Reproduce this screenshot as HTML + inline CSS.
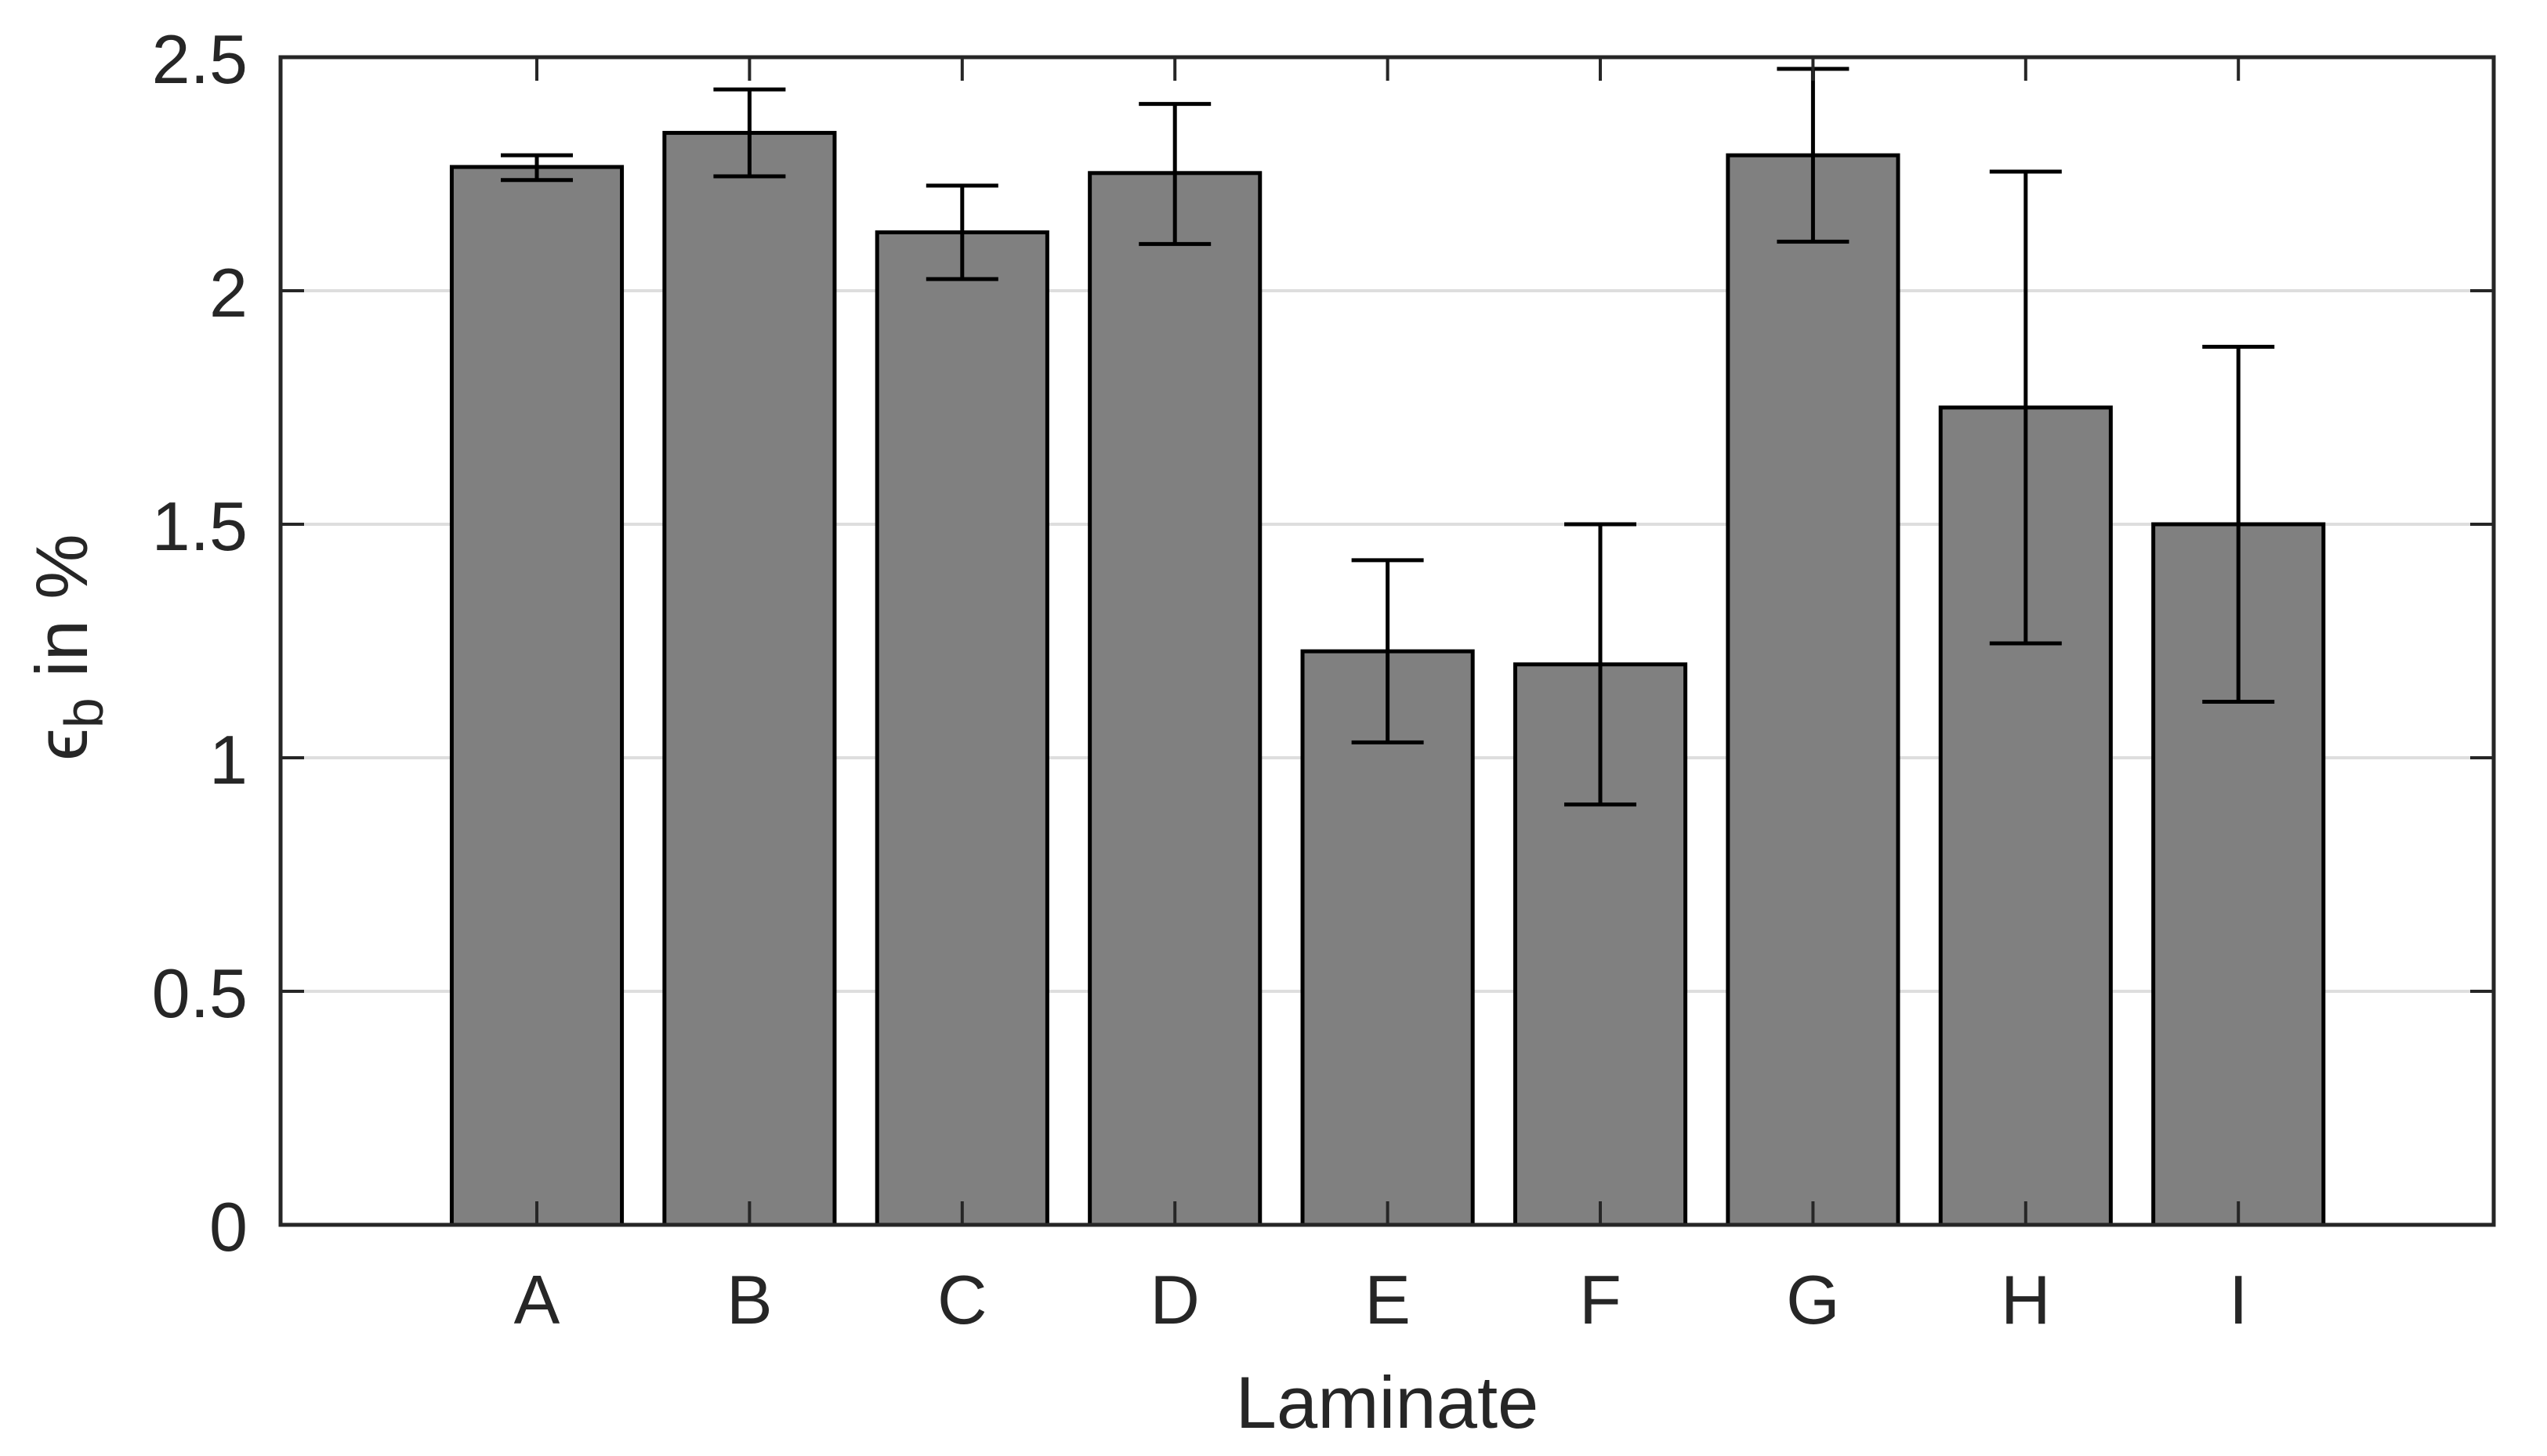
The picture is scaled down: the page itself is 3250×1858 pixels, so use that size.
<!DOCTYPE html>
<html><head><meta charset="utf-8"><style>
html,body{margin:0;padding:0;background:#fff;}
svg{display:block;font-family:"Liberation Sans",Arial,sans-serif;}
</style></head><body>
<svg id="chart" width="3250" height="1858" viewBox="0 0 3250 1858" xmlns="http://www.w3.org/2000/svg">
<rect width="3250" height="1858" fill="#fff"/>
<g id="grid"></g>
<g id="bars"></g>
<g id="errs"></g>
<g id="axes"></g>
<text x="1770" y="1822" font-size="94" text-anchor="middle" fill="#262626">Laminate</text>
<text transform="translate(111,826) rotate(-90)" font-size="94" text-anchor="middle" fill="#262626">ϵ<tspan font-size="70" dy="20">b</tspan><tspan dy="-20"> in %</tspan></text>
</svg>
<script>
const categories = ["A","B","C","D","E","F","G","H","I"];
const values = [2.265, 2.338, 2.125, 2.252, 1.228, 1.2, 2.29, 1.75, 1.5];
const errLow = [0.028, 0.093, 0.1, 0.152, 0.195, 0.3, 0.185, 0.505, 0.38];
const errHigh = [0.025, 0.093, 0.1, 0.148, 0.195, 0.3, 0.185, 0.505, 0.38];
const yTicks = [0, 0.5, 1, 1.5, 2, 2.5];
const yTickLabels = ["0","0.5","1","1.5","2","2.5"];

const NS = "http://www.w3.org/2000/svg";
const L = 358, R = 3182, T = 73, B = 1563;
const step = 271.4, x0 = 685;
function xPos(i){ return x0 + step * i; }
function yPos(v){ return B - (v / 2.5) * (B - T); }
function mk(tag, attrs, parent){
  const e = document.createElementNS(NS, tag);
  for (const k in attrs) e.setAttribute(k, attrs[k]);
  parent.appendChild(e);
  return e;
}
const grid = document.getElementById('grid');
const bars = document.getElementById('bars');
const errs = document.getElementById('errs');
const axes = document.getElementById('axes');

yTicks.forEach((t, i) => {
  const y = yPos(t);
  if (t > 0 && t < 2.5) {
    const g = mk('line', {x1:L, x2:R, y1:y, y2:y, stroke:'#dedede', 'stroke-width':4}, grid);
    
    
  }
  const tl = mk('line', {x1:L, x2:L+30, y1:y, y2:y, stroke:'#262626', 'stroke-width':4}, axes);
  
  
  const tr = mk('line', {x1:R-30, x2:R, y1:y, y2:y, stroke:'#262626', 'stroke-width':4}, axes);
  
  
  const lb = mk('text', {x:316, y:y+33, 'font-size':88, 'text-anchor':'end', fill:'#262626'}, axes);
  lb.textContent = yTickLabels[i];
  
  
});

const bw = step * 0.8;
categories.forEach((c, i) => {
  const x = xPos(i), y = yPos(values[i]);
  const r = mk('rect', {x:x-bw/2, y:y, width:bw, height:B-y, fill:'#808080', stroke:'#000', 'stroke-width':5}, bars);
  
  
  const yl = yPos(values[i] - errLow[i]), yh = yPos(values[i] + errHigh[i]);
  const g = mk('g', {stroke:'#000', 'stroke-width':5}, errs);
  
  
  mk('line', {x1:x, x2:x, y1:yl, y2:yh}, g);
  mk('line', {x1:x-46, x2:x+46, y1:yl, y2:yl}, g);
  mk('line', {x1:x-46, x2:x+46, y1:yh, y2:yh}, g);
  const tb = mk('line', {x1:x, x2:x, y1:B, y2:B-30, stroke:'#262626', 'stroke-width':4}, axes);
  
  
  const tt = mk('line', {x1:x, x2:x, y1:T, y2:T+30, stroke:'#262626', 'stroke-width':4}, axes);
  
  
  const lb = mk('text', {x:x, y:1689, 'font-size':88, 'text-anchor':'middle', fill:'#262626'}, axes);
  lb.textContent = c;
  
  
});
const box = mk('rect', {x:L, y:T, width:R-L, height:B-T, fill:'none', stroke:'#262626', 'stroke-width':5}, axes);


</script>
</body></html>
